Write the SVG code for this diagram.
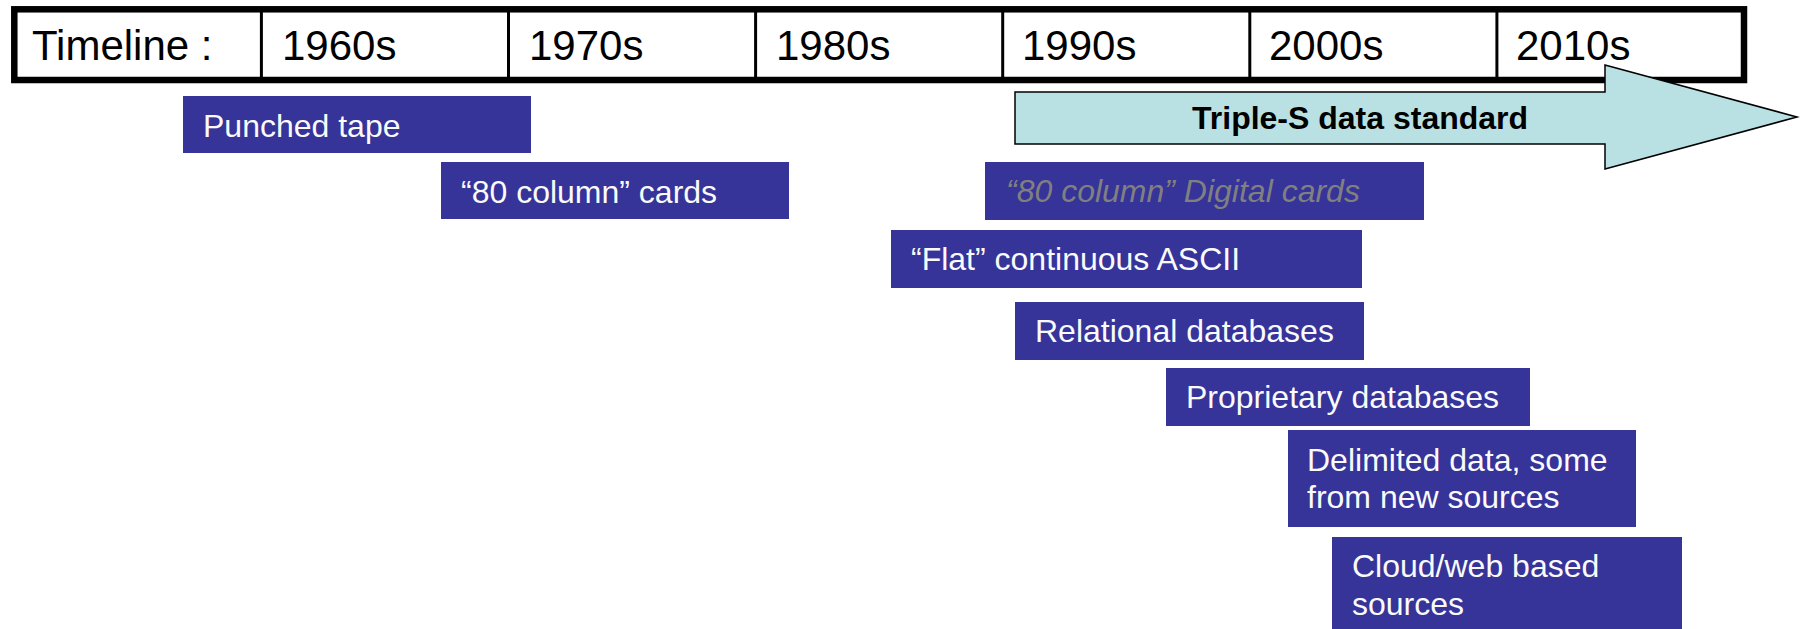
<svg xmlns="http://www.w3.org/2000/svg" width="1800" height="629" viewBox="0 0 1800 629">
<style>
.hdr{font-family:"Liberation Sans",Arial,sans-serif;font-size:42px;fill:#000}
.box{fill:#363399}
.bt{font-family:"Liberation Sans",Arial,sans-serif;font-size:32px;fill:#FAFAFA}
.gt{font-family:"Liberation Sans",Arial,sans-serif;font-size:32px;fill:#808080;font-style:italic}
.div{stroke:#000;stroke-width:3}
</style>
<g id="timeline">
<rect x="14.3" y="9.3" width="1729.7" height="70.7" fill="#fff" stroke="#000" stroke-width="6.5"/>
<line class="div" x1="261.4" y1="9" x2="261.4" y2="80"/>
<line class="div" x1="508.5" y1="9" x2="508.5" y2="80"/>
<line class="div" x1="755.6" y1="9" x2="755.6" y2="80"/>
<line class="div" x1="1002.7" y1="9" x2="1002.7" y2="80"/>
<line class="div" x1="1249.8" y1="9" x2="1249.8" y2="80"/>
<line class="div" x1="1496.9" y1="9" x2="1496.9" y2="80"/>
<text class="hdr" x="32" y="60">Timeline :</text>
<text class="hdr" x="282" y="60">1960s</text>
<text class="hdr" x="529" y="60">1970s</text>
<text class="hdr" x="776" y="60">1980s</text>
<text class="hdr" x="1022" y="60">1990s</text>
<text class="hdr" x="1269" y="60">2000s</text>
<text class="hdr" x="1516" y="60">2010s</text>
</g>
<g id="triple-s">
<polygon points="1015,92 1605,92 1605,65 1797,117 1605,169 1605,144 1015,144" fill="#B9E0E3" stroke="#000" stroke-width="1.5"/>
<text x="1192" y="129" font-family="'Liberation Sans',Arial,sans-serif" font-size="32" font-weight="bold" fill="#000">Triple-S data standard</text>
</g>
<g id="punched-tape">
<rect class="box" x="183" y="96" width="348" height="57"/>
<text class="bt" x="203" y="137">Punched tape</text>
</g>
<g id="column-cards">
<rect class="box" x="441" y="162" width="348" height="57"/>
<text class="bt" x="461" y="203">“80 column” cards</text>
</g>
<g id="digital-cards">
<rect class="box" x="985" y="162" width="439" height="58"/>
<text class="gt" x="1006" y="202">“80 column” Digital cards</text>
</g>
<g id="flat-ascii">
<rect class="box" x="891" y="230" width="471" height="58"/>
<text class="bt" x="911" y="270">“Flat” continuous ASCII</text>
</g>
<g id="relational">
<rect class="box" x="1015" y="302" width="349" height="58"/>
<text class="bt" x="1035" y="342">Relational databases</text>
</g>
<g id="proprietary">
<rect class="box" x="1166" y="368" width="364" height="58"/>
<text class="bt" x="1186" y="408">Proprietary databases</text>
</g>
<g id="delimited">
<rect class="box" x="1288" y="430" width="348" height="97"/>
<text class="bt" x="1307" y="471">Delimited data, some</text>
<text class="bt" x="1307" y="508">from new sources</text>
</g>
<g id="cloud">
<rect class="box" x="1332" y="537" width="350" height="92"/>
<text class="bt" x="1352" y="577">Cloud/web based</text>
<text class="bt" x="1352" y="615">sources</text>
</g>
<g id="connectors"></g>
</svg>
